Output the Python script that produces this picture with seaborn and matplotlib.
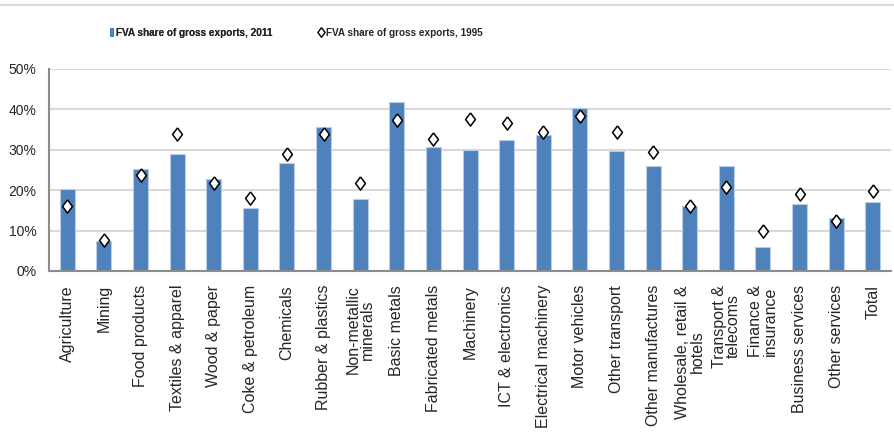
import pandas as pd
from matplotlib import pyplot as plt
from matplotlib.lines import Line2D
from matplotlib.patches import Patch
import seaborn as sns

sectors = ['Agriculture', 'Mining', 'Food products', 'Textiles & apparel', 'Wood & paper',
           'Coke & petroleum', 'Chemicals', 'Rubber & plastics', 'Non-metallic\nminerals',
           'Basic metals', 'Fabricated metals', 'Machinery', 'ICT & electronics',
           'Electrical machinery', 'Motor vehicles', 'Other transport', 'Other manufactures',
           'Wholesale, retail &\nhotels', 'Transport &\ntelecoms', 'Finance &\ninsurance',
           'Business services', 'Other services', 'Total']
fva_2011 = [20.3, 7.4, 25.2, 28.9, 22.7, 15.5, 26.7, 35.7, 17.9, 41.8, 30.8, 30.0, 32.4,
            33.6, 40.4, 29.6, 25.9, 16.2, 25.9, 6.0, 16.6, 13.0, 17.0]
fva_1995 = [16.1, 7.6, 23.7, 33.9, 21.8, 18.1, 29.0, 33.8, 21.8, 37.4, 32.6, 37.5, 36.7,
            34.3, 38.3, 34.3, 29.5, 16.1, 20.9, 10.0, 19.0, 12.4, 19.8]
yticks = [0, 10, 20, 30, 40, 50]

df = pd.DataFrame({'sector': sectors, 'y2011': fva_2011, 'y1995': fva_1995})

sns.set_style('white')
plt.rcParams['font.family'] = ['Liberation Sans', 'DejaVu Sans']
bar_color = '#4f81bd'
# wider-than-'d' diamond, like the Excel marker
diamond = [(0, 1), (0.75, 0), (0, -1), (-0.75, 0), (0, 1)]

fig = plt.figure(figsize=(8.94, 4.38), dpi=100)
ax = fig.add_axes([0.0548, 0.3813, 0.942, 0.4612])

sns.barplot(data=df, x='sector', y='y2011', color=bar_color, width=0.41,
            edgecolor='#b9cde5', linewidth=0.8, saturation=1, ax=ax, zorder=2)
sns.stripplot(data=df, x='sector', y='y1995', jitter=False, marker=diamond, size=9.5,
              color='white', edgecolor='black', linewidth=1.1, ax=ax, zorder=3)

ax.set_ylim(0, 50)
ax.set_xlim(-0.5, len(sectors) - 0.5)
ax.set_yticks(yticks)
ax.set_yticklabels([f'{t}%' for t in yticks], fontsize=10)
ax.set_xticks(range(len(sectors)))
ax.set_xticklabels(sectors, rotation=90, fontsize=11.5, linespacing=0.95,
                   ha='center', va='top', multialignment='center')
ax.tick_params(axis='y', length=0, pad=9)
ax.tick_params(axis='x', length=0, pad=10)
ax.set_xlabel('')
ax.set_ylabel('')
ax.yaxis.grid(True, color='#d9d9d9', linewidth=1.5, zorder=0)
ax.set_axisbelow(True)
for s in ['top', 'right']:
    ax.spines[s].set_visible(False)
for s in ['left', 'bottom']:
    ax.spines[s].set_color('#8c8c8c')
    ax.spines[s].set_linewidth(1.5)

leg_font = {'weight': 'bold', 'size': 7.2}
h2011 = Patch(facecolor=bar_color, edgecolor='none')
h1995 = Line2D([], [], marker=diamond, linestyle='none', markersize=7,
               markerfacecolor='white', markeredgecolor='black', markeredgewidth=1.0)
leg1 = fig.legend([h2011], ['FVA share of gross exports, 2011'], loc='center left',
                  bbox_to_anchor=(110 / 894, 0.925), frameon=False, borderpad=0,
                  borderaxespad=0, handlelength=0.35, handleheight=1.0,
                  handletextpad=0.25, prop=leg_font)
fig.legend([h1995], ['FVA share of gross exports, 1995'], loc='center left',
           bbox_to_anchor=(318 / 894, 0.925), frameon=False, borderpad=0,
           borderaxespad=0, handlelength=0.6, handletextpad=0.2, prop=leg_font)
fig.add_artist(leg1)

fig.add_artist(Line2D([0, 1], [0.988, 0.988], color='#d9d9d9', linewidth=1.5))

fig.savefig('out.png', dpi=100)
